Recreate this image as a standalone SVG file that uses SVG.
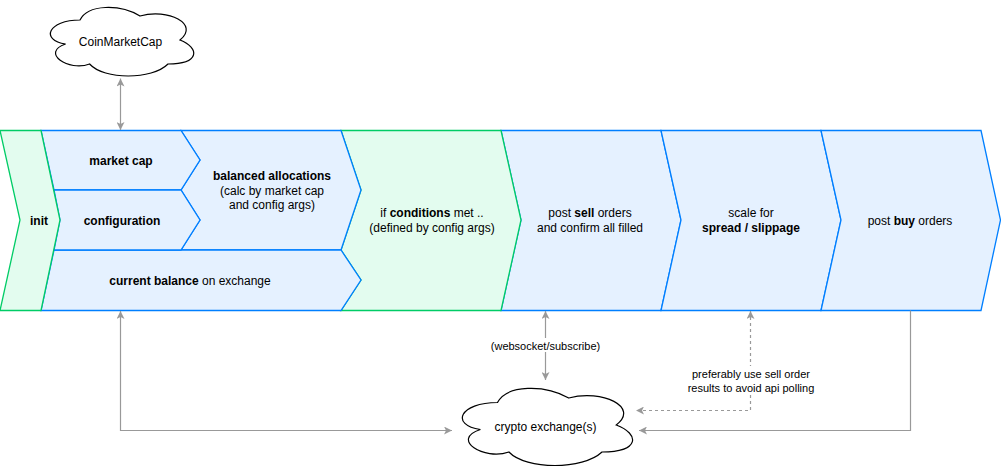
<svg xmlns="http://www.w3.org/2000/svg" width="1001" height="471" viewBox="0 0 1001 471">
<style>
.b{fill:#E5F1FF;stroke:#007FFF;stroke-width:1.3;stroke-linejoin:miter}
.g{fill:#E3FCEF;stroke:#00CC66;stroke-width:1.3;stroke-linejoin:miter}
.cl{fill:#FFFFFF;stroke:#000000;stroke-width:1.2}
text{font-family:"Liberation Sans",Arial,Helvetica,sans-serif;font-size:12px;fill:#000;text-anchor:middle}
.s{font-size:11px}
.bd{font-weight:bold}
.c{fill:none;stroke:#999999;stroke-width:1.2}
.d{stroke-dasharray:3 3}
</style>
<defs>
<marker id="ar" viewBox="0 0 8 8" refX="8" refY="4" markerWidth="8" markerHeight="8" markerUnits="userSpaceOnUse" orient="auto-start-reverse">
<path d="M0,0 L8,4 L0,8 L2,4 Z" fill="#999999"/>
</marker>
</defs>

<g id="post-sell"><polygon class="b" points="501,130.5 661,130.5 681,220 661,310.5 501,310.5 521,220"/><text x="590" y="216.5">post <tspan class="bd">sell</tspan> orders</text><text x="590" y="232">and confirm all filled</text></g>
<g id="scale"><polygon class="b" points="661,130.5 821,130.5 841,220 821,310.5 661,310.5 681,220"/><text x="751" y="216.5">scale for</text><text x="751" y="232" class="bd">spread / slippage</text></g>
<g id="post-buy"><polygon class="b" points="821,130.5 981,130.5 1000.5,220 981,310.5 821,310.5 841,220"/><text x="910" y="224.5">post <tspan class="bd">buy</tspan> orders</text></g>
<g id="conditions"><polygon class="g" points="341,130.5 501,130.5 521,220 501,310.5 341,310.5 361,280 341,250 361,190"/><text x="432" y="216.5">if <tspan class="bd">conditions</tspan> met ..</text><text x="432" y="232">(defined by config args)</text></g>
<g id="balanced"><polygon class="b" points="181,130.5 341,130.5 361,190 341,250 181,250 200,220 181,190 200,160"/><text x="272" y="180" class="bd">balanced allocations</text><text x="272" y="194.5">(calc by market cap</text><text x="272" y="209">and config args)</text></g>
<g id="current-balance"><polygon class="b" points="54,250 341,250 361,280 341,310.5 41,310.5"/><text x="190" y="284.5"><tspan class="bd">current balance</tspan> on exchange</text></g>
<g id="market-cap"><polygon class="b" points="41,130.5 181,130.5 200,160 181,190 54,190"/><text x="121" y="164.5" class="bd">market cap</text></g>
<g id="configuration"><polygon class="b" points="54,190 181,190 200,220 181,250 54,250 60,220"/><text x="122" y="224.5" class="bd">configuration</text></g>
<g id="init"><polygon class="g" points="0,130.5 41,130.5 60,220 41,310.5 0,310.5 20,220"/><text x="39" y="224.5" class="bd">init</text></g>

<g id="coinmarketcap"><path class="cl" d="M80,20 C48,20 40,40 65.6,44 C40,52.8 68.8,72 89.6,64 C104,80 152,80 168,64 C200,64 200,48 180,40 C200,24 168,8 140,16 C120,4 88,4 80,20 Z"/><text x="120.5" y="45.5">CoinMarketCap</text></g>
<g id="crypto-exchange"><path class="cl" d="M497.5,402.5 C459.5,402.5 450,425 480.4,429.5 C450,439.4 484.2,461 508.9,452 C526,470 583,470 602,452 C640,452 640,434 616.25,425 C640,407 602,389 568.75,398 C545,384.5 507,384.5 497.5,402.5 Z"/><text x="545.5" y="431">crypto exchange(s)</text></g>

<g id="connectors">
<path class="c" d="M120.5,78.5 L120.5,130" marker-start="url(#ar)" marker-end="url(#ar)"/>
<path class="c" d="M120.5,311 L120.5,430.5 L452,430.5" marker-start="url(#ar)" marker-end="url(#ar)"/>
<path class="c" d="M545.5,311 L545.5,380" marker-start="url(#ar)" marker-end="url(#ar)"/>
<path class="c d" d="M750.5,311 L750.5,410.5 L636,410.5" marker-start="url(#ar)" marker-end="url(#ar)"/>
<path class="c" d="M910.5,310.5 L910.5,430.5 L639,430.5" marker-end="url(#ar)"/>
<rect x="488" y="338" width="115" height="14" fill="#FFFFFF"/>
<text x="545.5" y="350" class="s">(websocket/subscribe)</text>
<rect x="688" y="366" width="126" height="28" fill="#FFFFFF"/>
<text x="751" y="378" class="s">preferably use sell order</text>
<text x="751" y="391.5" class="s">results to avoid api polling</text>
</g>
</svg>
